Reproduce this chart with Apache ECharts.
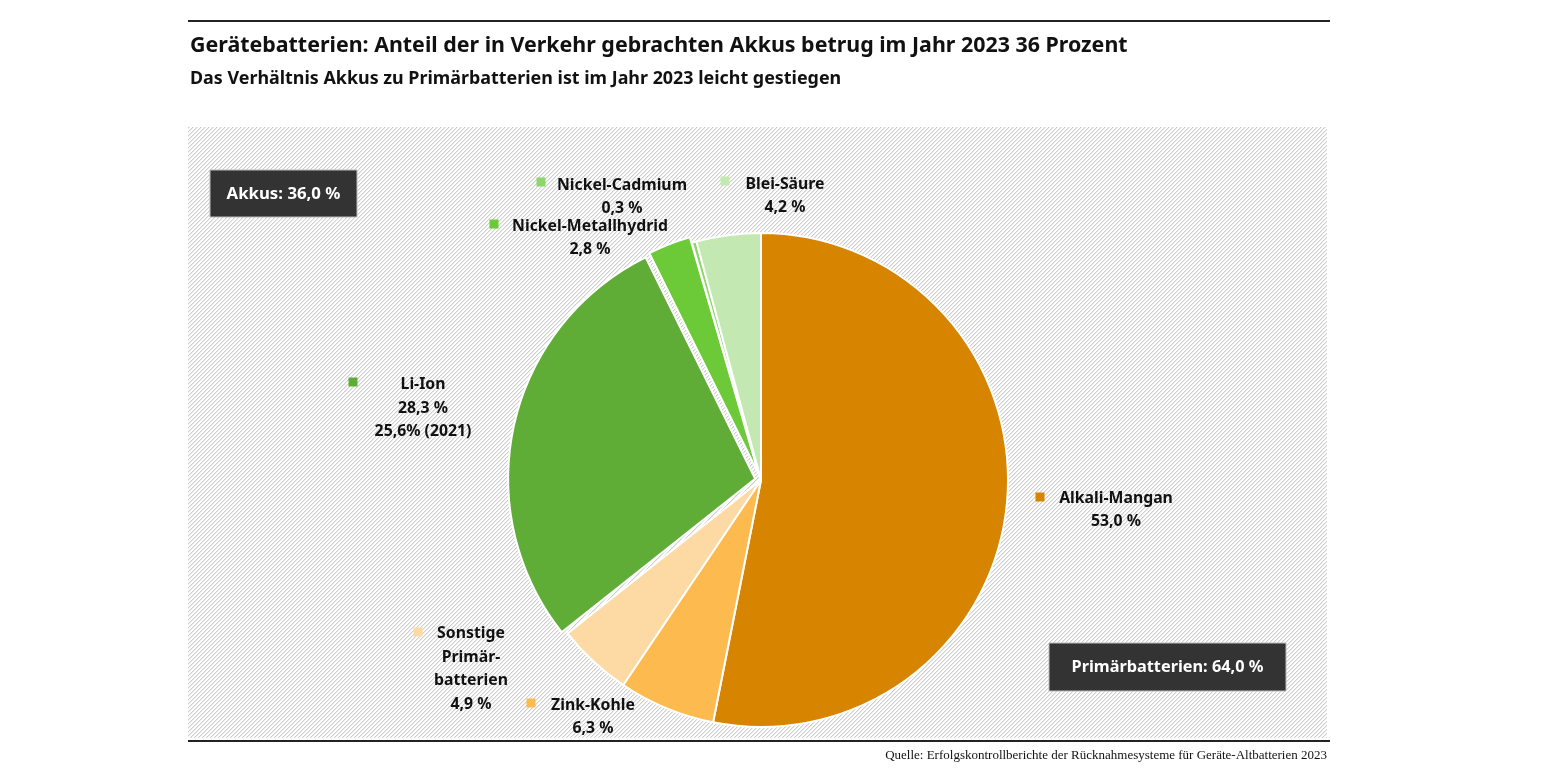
<!DOCTYPE html>
<html>
<head>
<meta charset="utf-8">
<script src="https://cdn.jsdelivr.net/npm/echarts@6/dist/echarts.min.js"></script>
<style>
html,body{margin:0;padding:0;background:#fff;}
#chart{width:1545px;height:775px;}
</style>
</head>
<body>
<div id="chart"></div>
<script>
// ---- data ----
const categories = ['Alkali-Mangan','Zink-Kohle','Sonstige Primärbatterien','Li-Ion','Nickel-Metallhydrid','Nickel-Cadmium','Blei-Säure'];
const labelNames = ['Alkali-Mangan','Zink-Kohle','Sonstige\nPrimär-\nbatterien','Li-Ion','Nickel-Metallhydrid','Nickel-Cadmium','Blei-Säure'];
const values2023 = [53.0, 6.3, 4.9, 28.3, 2.8, 0.3, 4.2];
const notes = ['', '', '', '25,6% (2021)', '', '', ''];
const groupLabels = ['Akkus: 36,0 %', 'Primärbatterien: 64,0 %'];
const titleText = 'Gerätebatterien: Anteil der in Verkehr gebrachten Akkus betrug im Jahr 2023 36 Prozent';
const subtitleText = 'Das Verhältnis Akkus zu Primärbatterien ist im Jahr 2023 leicht gestiegen';
const sourceText = 'Quelle: Erfolgskontrollberichte der Rücknahmesysteme für Geräte-Altbatterien 2023';

// ---- styles ----
const colors = ['#D78400','#FDBA4F','#FDDAA3','#5FAD37','#6CC937','#8ED66B','#C3E8B1'];
const FONT = 'Noto Sans';
const labelPos = [
  [1116, 510], [593, 717], [471, 669], [423, 408], [590, 238], [622, 197], [785, 196]
];
const markerPos = [
  [1040, 497], [531, 703], [418, 632], [353, 382], [494, 224], [541, 182], [725, 181]
];
const explode = [0, 0, 0, 6, 3, 0, 0];

function fmt(v){ return v.toFixed(1).replace('.', ',') + ' %'; }

// hatch pattern
const pc = document.createElement('canvas');
pc.width = 4; pc.height = 4;
const pctx = pc.getContext('2d');
pctx.fillStyle = '#ffffff'; pctx.fillRect(0,0,4,4);
for (let i = 0; i < 4; i++) {
  pctx.fillStyle = '#cdcdcd'; pctx.fillRect(i, 3 - i, 1, 1);
  pctx.fillStyle = '#ebebeb'; pctx.fillRect(i, (4 - i) % 4, 1, 1);
}

const chart = echarts.init(document.getElementById('chart'), null, {renderer: 'canvas'});

const pieBase = {
  type: 'pie',
  center: [761, 480],
  radius: [0, 247],
  startAngle: 90,
  clockwise: true,
  silent: true,
  avoidLabelOverlap: false,
  emphasis: {disabled: true},
  labelLine: {show: false}
};

const option = {
  animation: false,
  title: [
    {text: titleText, left: 190, top: 35, padding: 0, textStyle: {fontFamily: FONT, fontSize: 21.4, fontWeight: 'bold', color: '#111'}},
    {text: subtitleText, left: 190, top: 70, padding: 0, textStyle: {fontFamily: FONT, fontSize: 17.9, fontWeight: 'bold', color: '#111'}},
    {text: sourceText, right: 218, top: 749, padding: 0, textStyle: {fontFamily: 'Liberation Serif', fontSize: 13, fontWeight: 'normal', color: '#111'}}
  ],
  graphic: [
    {type: 'rect', z: 0, silent: true, shape: {x: 188, y: 127, width: 1139, height: 611}, style: {fill: {image: pc, repeat: 'repeat'}}},
    {type: 'rect', z: 0, silent: true, shape: {x: 188, y: 20, width: 1142, height: 2}, style: {fill: '#222'}},
    {type: 'rect', z: 0, silent: true, shape: {x: 188, y: 740, width: 1142, height: 2}, style: {fill: '#222'}},
    {type: 'rect', z: 5, silent: true, shape: {x: 210, y: 170, width: 147, height: 47}, style: {fill: '#333333', stroke: '#bdbdbd', lineWidth: 1}},
    {type: 'text', z: 6, silent: true, x: 283.5, y: 194, style: {text: groupLabels[0], fill: '#fff', font: 'bold 16.8px "Noto Sans"', textAlign: 'center', textVerticalAlign: 'middle'}},
    {type: 'rect', z: 5, silent: true, shape: {x: 1049, y: 643, width: 237, height: 48}, style: {fill: '#333333', stroke: '#bdbdbd', lineWidth: 1}},
    {type: 'text', z: 6, silent: true, x: 1167.5, y: 667, style: {text: groupLabels[1], fill: '#fff', font: 'bold 16.3px "Noto Sans"', textAlign: 'center', textVerticalAlign: 'middle'}}
  ],
  series: [
    Object.assign({}, pieBase, {
      z: 3,
      selectedMode: 'multiple',
      selectedOffset: 6,
      itemStyle: {borderColor: '#fff', borderWidth: 2},
      label: {show: false},
      data: values2023.map((v, i) => ({
        value: v, name: categories[i], selected: explode[i] > 0,
        itemStyle: {color: colors[i]}
      }))
    }),
    Object.assign({}, pieBase, {
      z: 4,
      itemStyle: {color: 'rgba(0,0,0,0)', borderWidth: 0},
      label: {
        show: true,
        position: 'outside',
        formatter: p => {
          const i = p.dataIndex;
          let s = labelNames[i] + '\n' + fmt(values2023[i]);
          if (notes[i]) s += '\n' + notes[i];
          return s;
        },
        fontFamily: FONT,
        fontSize: 15.8,
        fontWeight: 'bold',
        color: '#111',
        lineHeight: 23.5,
        align: 'center'
      },
      labelLayout: p => ({x: labelPos[p.dataIndex][0], y: labelPos[p.dataIndex][1], align: 'center', verticalAlign: 'middle'}),
      data: values2023.map((v, i) => ({value: v, name: categories[i]}))
    }),
    Object.assign({}, pieBase, {
      z: 4,
      itemStyle: {color: 'rgba(0,0,0,0)', borderWidth: 0},
      label: {
        show: true,
        position: 'outside',
        formatter: '{m|}',
        rich: {m: {width: 9, height: 9}}
      },
      labelLayout: p => ({x: markerPos[p.dataIndex][0], y: markerPos[p.dataIndex][1], align: 'center', verticalAlign: 'middle'}),
      data: values2023.map((v, i) => ({
        value: v, name: categories[i],
        label: {rich: {m: {backgroundColor: colors[i]}}}
      }))
    })
  ]
};
chart.setOption(option);
</script>
</body>
</html>
